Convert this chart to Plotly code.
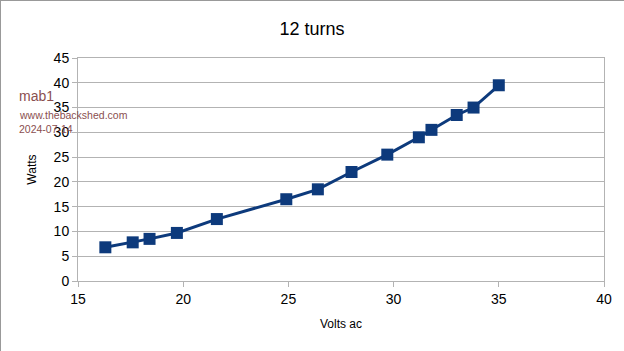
import plotly.graph_objects as go

volts = [16.3, 17.6, 18.4, 19.7, 21.6, 24.9, 26.4, 28.0, 29.7, 31.2, 31.8, 33.0, 33.8, 35.0]
watts = [6.8, 7.8, 8.5, 9.7, 12.5, 16.5, 18.5, 22.0, 25.5, 29.0, 30.5, 33.5, 35.0, 39.5]

x_ticks = [15, 20, 25, 30, 35, 40]
y_ticks = [0, 5, 10, 15, 20, 25, 30, 35, 40, 45]

series_color = "#0d3a7c"
grid_color = "#b3b3b3"
note_color = "#8a4f4f"
font_family = "Liberation Sans, Arial, sans-serif"

fig = go.Figure()
fig.add_trace(go.Scatter(
    x=volts, y=watts, mode="lines+markers",
    line=dict(color=series_color, width=3),
    marker=dict(symbol="square", size=12, color=series_color),
    showlegend=False,
))

W, H = 624, 351
L, R, T, B = 78, 20, 58, 70

fig.update_layout(
    width=W, height=H,
    margin=dict(l=L, r=R, t=T, b=B),
    paper_bgcolor="white", plot_bgcolor="white",
    font=dict(family=font_family, color="black"),
    title=dict(text="12 turns", x=0.5, xanchor="center", y=1 - 29 / H, yanchor="middle",
               font=dict(size=18, color="black")),
    xaxis=dict(
        range=[15, 40], tickvals=x_ticks, ticks="outside", ticklen=5, tickcolor=grid_color,
        showgrid=False, showline=True, linecolor=grid_color, linewidth=1, mirror=True,
        zeroline=False, tickfont=dict(size=14),
        title=dict(text="Volts ac", font=dict(size=12), standoff=13),
    ),
    yaxis=dict(
        range=[0, 45], tickvals=y_ticks, ticks="outside", ticklen=5, tickcolor=grid_color,
        showgrid=True, gridcolor=grid_color, gridwidth=1,
        showline=True, linecolor=grid_color, linewidth=1, mirror=True,
        zeroline=False, tickfont=dict(size=14),
        title=dict(text="Watts", font=dict(size=12), standoff=14),
    ),
)

pw = W - L - R
ph = H - T - B

def px_to_paper_x(px):
    return (px - L) / pw

def px_to_paper_y(py):
    return (H - B - py) / ph

notes = [("mab1", 96, 14), ("www.thebackshed.com", 115, 10.5), ("2024-07-14", 129, 10.5)]
for text, py, size in notes:
    fig.add_annotation(
        text=text, xref="paper", yref="paper",
        x=px_to_paper_x(17), y=px_to_paper_y(py), xanchor="left", yanchor="middle",
        showarrow=False, font=dict(size=size, color=note_color, family=font_family),
    )

# image border on top and left
fig.add_shape(type="line", xref="paper", yref="paper",
              x0=px_to_paper_x(0), x1=px_to_paper_x(W), y0=px_to_paper_y(0.5), y1=px_to_paper_y(0.5),
              line=dict(color="#999999", width=1))
fig.add_shape(type="line", xref="paper", yref="paper",
              x0=px_to_paper_x(0.5), x1=px_to_paper_x(0.5), y0=px_to_paper_y(0), y1=px_to_paper_y(H),
              line=dict(color="#999999", width=1))

fig.write_html("out.html")
